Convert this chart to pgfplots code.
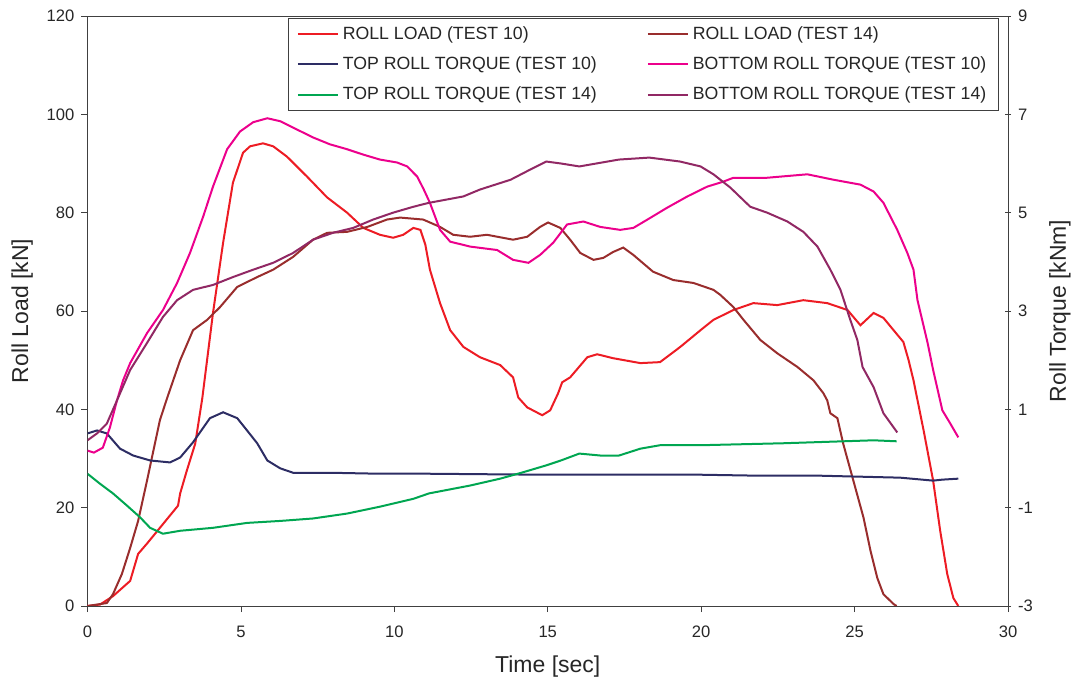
\documentclass[border=0pt]{standalone}
\usepackage{pgfplots}
\pgfplotsset{compat=1.18}
\usepackage{fontspec}
\setmainfont{Liberation Sans}

\definecolor{load10}{RGB}{237,28,36}
\definecolor{load14}{RGB}{153,45,45}
\definecolor{top10}{RGB}{45,45,100}
\definecolor{bot10}{RGB}{236,0,140}
\definecolor{top14}{RGB}{0,166,81}
\definecolor{bot14}{RGB}{145,40,100}

\pgfplotsset{
  common/.style={
    scale only axis,
    width=460.25pt, height=295pt,
    xmin=0, xmax=30,
    tick align=outside,
    major tick length=3pt,
    axis line style={black!75, -},
    every tick/.style={black!75},
    tick label style={font=\fontsize{8.3}{10}\selectfont, text=black!85},
    label style={font=\fontsize{11.5}{13}\selectfont, text=black!85},
    /pgf/number format/assume math mode=true,
    every axis plot/.append style={line width=1pt},
  },
}

\begin{document}
\begin{tikzpicture}
\begin{axis}[
    common,
    ymin=0, ymax=120,
    xtick={0,5,...,30},
    ytick={0,20,...,120},
    xtick pos=bottom, ytick pos=left,
    xticklabel style={yshift=-3.5pt},
    xlabel={Time [sec]},
    ylabel={Roll Load [kN]},
    xlabel style={at={(axis description cs:0.5,-0.102)}, anchor=center},
    ylabel style={at={(axis description cs:-0.071,0.5)}, anchor=center},
]
% roll load, test 10
\addplot[load10] coordinates {
(0,0) (0.41,0.3) (0.83,2.0) (1.39,5.1) (1.65,10.6) (1.94,12.7) (2.36,15.9)
(2.95,20.4) (3.02,22.9) (3.24,27.6) (3.51,33.0) (3.74,42.2) (4.09,59.6)
(4.42,73.9) (4.74,86.1) (5.07,92.2) (5.30,93.5) (5.72,94.1) (6.05,93.5)
(6.50,91.4) (7.16,87.3) (7.81,83.1) (8.46,80.0) (8.99,76.9) (9.53,75.5)
(9.96,74.9) (10.29,75.5) (10.62,76.9) (10.85,76.5) (11.01,73.5) (11.16,68.4)
(11.49,61.6) (11.82,56.1) (12.25,52.7) (12.79,50.6) (13.45,49.0) (13.87,46.5)
(14.04,42.4) (14.33,40.4) (14.82,38.8) (15.08,39.8) (15.34,43.3) (15.47,45.5)
(15.73,46.5) (16.29,50.6) (16.61,51.2) (17.13,50.4) (18.02,49.4) (18.66,49.6)
(19.32,52.7) (19.98,56.1) (20.40,58.2) (21.05,60.2) (21.70,61.6) (22.48,61.2)
(23.33,62.2) (24.11,61.6) (24.77,60.2) (25.19,57.1) (25.62,59.6) (25.94,58.6)
(26.27,56.1) (26.59,53.7) (26.76,50.0) (26.92,45.9) (27.25,35.7) (27.56,25.5)
(27.79,15.3) (28.02,6.5) (28.22,1.6) (28.38,0)
};
% roll load, test 14
\addplot[load14] coordinates {
(0,0) (0.63,0.6) (0.83,2.4) (1.12,6.5) (1.39,11.8) (1.65,17.3) (1.94,25.5)
(2.10,30.2) (2.36,37.8) (2.59,42.2) (3.02,50.0) (3.44,56.1) (3.90,58.2)
(4.32,60.8) (4.88,64.9) (5.53,66.9) (6.05,68.4) (6.70,71.0) (7.35,74.5)
(7.81,75.9) (8.46,76.1) (9.12,77.1) (9.76,78.6) (10.19,79.0) (10.94,78.6)
(11.49,77.1) (11.92,75.5) (12.47,75.1) (13.02,75.5) (13.87,74.5) (14.33,75.1)
(14.75,77.1) (15.01,78.0) (15.41,76.9) (15.73,74.5) (16.06,71.8) (16.49,70.4)
(16.81,70.8) (17.13,72.0) (17.46,72.9) (17.79,71.4) (18.43,68.0) (19.09,66.3)
(19.75,65.7) (20.40,64.3) (20.62,63.3) (21.05,60.8) (21.38,58.2) (21.93,54.1)
(22.48,51.4) (23.14,48.6) (23.66,45.9) (23.98,43.3) (24.11,41.8) (24.21,39.2)
(24.44,38.2) (24.63,33.0) (24.96,25.5) (25.29,18.0) (25.52,11.2) (25.74,5.7)
(25.94,2.4) (26.27,0.4) (26.37,0)
};
\end{axis}

\begin{axis}[
    common,
    ymin=-3, ymax=9,
    ytick={-3,-1,...,9},
    axis x line=none,
    axis y line*=right,
    y tick style={black!75},
    ytick align=center,
    ylabel={Roll Torque [kNm]},
    ylabel style={at={(axis description cs:1.0565,0.5)}, anchor=center, rotate=0},
    legend columns=2,
    legend cell align=left,
    legend image code/.code={\draw[#1, line width=1pt] (0pt,0pt) -- (20pt,0pt);},
    legend style={
        at={(axis description cs:0.990,0.997)}, anchor=north east,
        draw=black!75, line width=0.5pt,
        font=\fontsize{8.85}{10.5}\selectfont, text=black!85,
        row sep=3.2pt, inner xsep=4pt, inner ysep=2pt,
        /tikz/every even column/.append style={column sep=23pt},
    },
]
\addlegendimage{load10}
\addlegendentry{ROLL LOAD (TEST 10)}
\addlegendimage{load14}
\addlegendentry{ROLL LOAD (TEST 14)}
% top roll torque, test 10
\addplot[top10] coordinates {
(0,0.51) (0.31,0.57) (0.63,0.51) (1.06,0.20) (1.49,0.06) (2.04,-0.04)
(2.69,-0.08) (3.02,0.02) (3.44,0.33) (3.99,0.82) (4.42,0.94) (4.88,0.82)
(5.20,0.57) (5.53,0.31) (5.86,-0.04) (6.28,-0.20) (6.70,-0.29) (7.90,-0.29)
(9.53,-0.31) (11.13,-0.31) (12.95,-0.32) (14.95,-0.33) (16.92,-0.33)
(18.91,-0.33) (19.98,-0.33) (21.90,-0.35) (23.88,-0.35) (26.49,-0.39)
(27.56,-0.45) (27.86,-0.43) (28.38,-0.41)
};
\addlegendentry{TOP ROLL TORQUE (TEST 10)}
% bottom roll torque, test 10
\addplot[bot10] coordinates {
(0,0.16) (0.21,0.12) (0.50,0.22) (0.73,0.63) (0.96,1.18) (1.16,1.59)
(1.39,1.94) (1.94,2.55) (2.46,3.02) (2.92,3.57) (3.34,4.18) (3.77,4.92)
(4.09,5.53) (4.55,6.29) (4.97,6.65) (5.40,6.84) (5.86,6.92) (6.28,6.86)
(6.83,6.69) (7.35,6.53) (7.90,6.39) (8.46,6.29) (8.99,6.18) (9.53,6.08)
(10.09,6.02) (10.42,5.94) (10.75,5.73) (10.96,5.47) (11.16,5.20) (11.49,4.65)
(11.82,4.41) (12.47,4.31) (13.35,4.24) (13.87,4.04) (14.37,3.98) (14.75,4.14)
(15.18,4.39) (15.63,4.76) (16.16,4.82) (16.71,4.71) (17.36,4.65) (17.79,4.69)
(18.25,4.86) (18.89,5.10) (19.55,5.33) (20.20,5.53) (20.72,5.63) (21.05,5.71)
(22.15,5.71) (23.46,5.78) (24.31,5.67) (25.19,5.57) (25.62,5.43) (25.94,5.20)
(26.39,4.65) (26.72,4.18) (26.92,3.84) (27.05,3.22) (27.38,2.35) (27.56,1.80)
(27.86,0.98) (28.12,0.71) (28.38,0.43)
};
\addlegendentry{BOTTOM ROLL TORQUE (TEST 10)}
% top roll torque, test 14
\addplot[top14] coordinates {
(0,-0.31) (0.40,-0.51) (0.83,-0.71) (1.29,-0.96) (1.72,-1.20) (2.04,-1.41)
(2.46,-1.53) (3.02,-1.47) (4.09,-1.41) (5.20,-1.31) (6.28,-1.27) (7.35,-1.22)
(8.46,-1.12) (9.53,-0.98) (10.62,-0.82) (11.13,-0.71) (12.47,-0.55)
(13.45,-0.41) (14.14,-0.29) (14.95,-0.14) (15.43,-0.04) (16.03,0.10)
(16.72,0.06) (17.32,0.06) (18.02,0.20) (18.66,0.27) (19.98,0.27) (22.68,0.31)
(25.62,0.37) (26.37,0.35)
};
\addlegendentry{TOP ROLL TORQUE (TEST 14)}
% bottom roll torque, test 14
\addplot[bot14] coordinates {
(0,0.37) (0.31,0.51) (0.63,0.71) (0.96,1.18) (1.39,1.80) (1.94,2.35)
(2.46,2.88) (2.92,3.22) (3.44,3.43) (4.09,3.53) (4.74,3.69) (5.40,3.84)
(6.05,3.98) (6.70,4.18) (7.35,4.45) (8.00,4.59) (8.66,4.69) (9.31,4.86)
(9.96,5.00) (10.62,5.12) (11.13,5.20) (12.25,5.33) (12.79,5.47) (13.79,5.67)
(14.44,5.88) (14.95,6.04) (15.43,6.00) (16.03,5.94) (17.32,6.08) (18.31,6.12)
(19.31,6.04) (19.98,5.94) (20.40,5.78) (20.95,5.51) (21.60,5.12) (22.15,5.00)
(22.81,4.82) (23.33,4.61) (23.79,4.31) (24.21,3.84) (24.54,3.43) (24.86,2.82)
(25.09,2.41) (25.26,1.86) (25.62,1.45) (25.94,0.92) (26.39,0.53)
};
\addlegendentry{BOTTOM ROLL TORQUE (TEST 14)}
\end{axis}
\pgfresetboundingbox
\path (-43.75pt,-37pt) rectangle (494.75pt,303pt);
\end{tikzpicture}
\end{document}
